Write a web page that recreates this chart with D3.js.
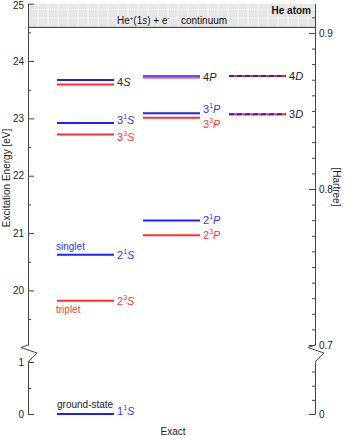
<!DOCTYPE html>
<html>
<head>
<meta charset="utf-8">
<script src="https://cdn.jsdelivr.net/npm/d3@7"></script>
<style>
body { margin: 0; background: #fff; }
text { font-family: "Liberation Sans", Arial, sans-serif; }
</style>
</head>
<body>
<div id="chart"></div>
<script>
// He atom levels, exact excitation energies (eV)
const levelTerms  = ["1¹S","2³S","2¹S","2³P","2¹P","3³S","3¹S","3³P","3¹P","3³D","3¹D","4³S","4¹S","4³P","4¹P","4³D","4¹D"];
const levelEnergy = [0, 19.82, 20.62, 20.96, 21.22, 22.72, 22.92, 23.01, 23.09, 23.07, 23.07, 23.59, 23.67, 23.71, 23.74, 23.74, 23.74];
const levelSpin   = ["s","t","s","t","s","t","s","t","s","t","s","t","s","t","s","t","s"];
const levelL      = ["S","S","S","P","P","S","S","P","P","D","D","S","S","P","P","D","D"];

// term labels: n, multiplicity ("" = both), L
const labelN    = ["1","2","2","2","2","3","3","3","3","3","4","4","4"];
const labelMult = ["1","3","1","3","1","3","1","3","1","","","",""];
const labelL    = ["S","S","S","P","P","S","S","P","P","D","S","P","D"];

const ionization = 24.587;   // He+(1s) + e- threshold
const HARTREE = 27.2114;     // eV per Hartree

const eVMajorUp = [20, 21, 22, 23, 24, 25];
const eVMinorUp = [19.5, 20.5, 21.5, 22.5, 23.5, 24.5];
const eVMajorLo = [0, 1];
const eVMinorLo = [0.5];
const haMajorUp = [0.7, 0.8, 0.9];
const haMinorUp = d3.range(71, 92).filter(i => i % 10).map(i => i / 100);
const haMajorLo = [0];
const haMinorLo = [0.01, 0.02, 0.03];

const width = 345, height = 436;
const xL = 28, xR = 315;
const blue = "#2020ff", red = "#ff3030";

const svg = d3.select("#chart").append("svg")
    .attr("width", width)
    .attr("height", height);

// broken y axis: upper panel 0.7 Ha .. 25 eV, lower panel 0 .. 1 eV
const yUp = d3.scaleLinear().domain([0.7 * HARTREE, 25]).range([345, 3.7]);
const yLo = d3.scaleLinear().domain([0, 1]).range([414, 362]);
const yE = e => e > 5 ? yUp(e) : yLo(e);
const hUp = d3.scaleLinear().domain([0.7, 25 / HARTREE]).range([345, 3.7]);
const hLo = d3.scaleLinear().domain([0, 1 / HARTREE]).range([414, 362]);

const x = d3.scaleBand().domain(["S", "P", "D"]).range([57, 286]).paddingInner(1 - 57 / 86);

// continuum band
const band = svg.append("g");
band.append("rect")
    .attr("x", xL).attr("y", yUp(25))
    .attr("width", xR - xL).attr("height", yUp(ionization) - yUp(25))
    .attr("fill", "#e6e6e6");
band.selectAll(".vg").data(d3.range(xL + 10, xR, 10)).enter().append("line")
    .attr("x1", d => d).attr("x2", d => d)
    .attr("y1", yUp(25)).attr("y2", yUp(ionization))
    .attr("stroke", "#fff").attr("stroke-dasharray", "1,1");
band.selectAll(".hg").data([yUp(24.9), yUp(24.75)]).enter().append("line")
    .attr("x1", xL).attr("x2", xR)
    .attr("y1", d => d).attr("y2", d => d)
    .attr("stroke", "#fff").attr("stroke-dasharray", "1,1");
band.append("line")
    .attr("x1", xL).attr("x2", xR)
    .attr("y1", yUp(ionization)).attr("y2", yUp(ionization))
    .attr("stroke", "#333").attr("stroke-width", 1);

band.append("text")
    .attr("x", xR - 4).attr("y", 14)
    .attr("text-anchor", "end")
    .attr("font-size", 10).attr("font-weight", "bold")
    .attr("fill", "#111")
    .text("He atom");
const ct = band.append("text")
    .attr("x", 117).attr("y", 24)
    .attr("font-size", 10).attr("fill", "#111");
ct.append("tspan").text("He");
ct.append("tspan").attr("dy", -4).attr("font-size", 6).text("+");
ct.append("tspan").attr("dy", 4).text("(1");
ct.append("tspan").attr("font-style", "italic").text("s");
ct.append("tspan").text(") + e");
ct.append("tspan").attr("dy", -4).attr("font-size", 6).text("-");
ct.append("tspan").attr("dy", 4).attr("x", 181).text("continuum");

// axes
function styleAxis(g) {
    g.selectAll("path, line").attr("stroke", "#444");
    g.selectAll("text").attr("font-size", 10).attr("fill", "#222")
        .attr("font-family", "\"Liberation Sans\", Arial, sans-serif");
}
function addAxis(axis, xpos, major) {
    const g = svg.append("g").attr("transform", `translate(${xpos},0)`).call(axis);
    if (!major) g.select(".domain").remove();
    styleAxis(g);
    return g;
}
const leftUp = addAxis(d3.axisLeft(yUp).tickValues(eVMajorUp).tickSizeInner(-6).tickSizeOuter(0).tickPadding(4).tickFormat(d3.format("d")), xL, true);
// keep the top label inside the picture
leftUp.selectAll(".tick text").filter(d => d === 25).attr("dy", "0.5em");
addAxis(d3.axisLeft(yUp).tickValues(eVMinorUp).tickSize(-3).tickFormat(""), xL, false);
addAxis(d3.axisLeft(yLo).tickValues(eVMajorLo).tickSizeInner(-6).tickSizeOuter(0).tickPadding(4).tickFormat(d3.format("d")), xL, true);
addAxis(d3.axisLeft(yLo).tickValues(eVMinorLo).tickSize(-3).tickFormat(""), xL, false);
addAxis(d3.axisRight(hUp).tickValues(haMajorUp).tickSizeInner(-6).tickSizeOuter(0).tickPadding(4).tickFormat(d3.format(".1f")), xR, true);
addAxis(d3.axisRight(hUp).tickValues(haMinorUp).tickSize(-3).tickFormat(""), xR, false);
addAxis(d3.axisRight(hLo).tickValues(haMajorLo).tickSizeInner(-6).tickSizeOuter(0).tickPadding(4).tickFormat(d3.format("d")), xR, true);
addAxis(d3.axisRight(hLo).tickValues(haMinorLo).tickSize(-3).tickFormat(""), xR, false);

// axis break zigzags
const zig = d3.line();
[xL, xR].forEach(ax => {
    svg.append("path")
        .attr("d", zig([[ax, yUp.range()[0]], [ax - 7, 347.5], [ax + 9, 353], [ax, yLo.range()[1]]]))
        .attr("fill", "none").attr("stroke", "#444");
});

// axis titles
svg.append("text")
    .attr("transform", `translate(10,178) rotate(-90)`)
    .attr("text-anchor", "middle").attr("font-size", 10).attr("fill", "#222")
    .text("Excitation Energy [eV]");
svg.append("text")
    .attr("transform", `translate(333,187) rotate(90)`)
    .attr("text-anchor", "middle").attr("font-size", 10).attr("fill", "#222")
    .text("[Hartree]");
svg.append("text")
    .attr("x", 173).attr("y", 435)
    .attr("text-anchor", "middle").attr("font-size", 10).attr("fill", "#222")
    .text("Exact");

// levels: triplets first, singlets on top; D singlet dashed over triplet
const idx = d3.range(levelTerms.length).sort((a, b) => (levelSpin[a] === "s") - (levelSpin[b] === "s"));
svg.append("g").selectAll("line").data(idx).enter().append("line")
    .attr("x1", i => x(levelL[i]))
    .attr("x2", i => x(levelL[i]) + x.bandwidth())
    .attr("y1", i => yE(levelEnergy[i]))
    .attr("y2", i => yE(levelEnergy[i]))
    .attr("stroke", i => levelSpin[i] === "s" ? blue : red)
    .attr("stroke-opacity", i => levelL[i] === "P" && levelEnergy[i] > 23.5 ? 0.75 : 1)
    .attr("stroke-width", 2)
    .attr("stroke-dasharray", i => levelL[i] === "D" && levelSpin[i] === "s" ? "5,3" : null);

// term labels
const labelEnergy = labelN.map((n, k) => {
    const sel = d3.range(levelTerms.length).filter(i =>
        levelTerms[i][0] === n && levelL[i] === labelL[k] &&
        (labelMult[k] === "" || levelTerms[i][1] === (labelMult[k] === "1" ? "¹" : "³")));
    return d3.mean(sel, i => levelEnergy[i]);
});
// nudge crowded n=3 labels apart (pixels)
const nudge = { "3 1 S": -3, "3 3 S": 3, "3 1 P": -4, "3 3 P": 6 };
const lab = svg.append("g").selectAll("text").data(labelN).enter().append("text")
    .attr("x", (d, k) => x(labelL[k]) + x.bandwidth() + 3)
    .attr("y", (d, k) => yE(labelEnergy[k]) + 4 + (nudge[`${d} ${labelMult[k]} ${labelL[k]}`] || 0) - (labelEnergy[k] === 0 ? 3 : 0))
    .attr("font-size", 11)
    .attr("fill", (d, k) => labelMult[k] === "1" ? "#3333ff" : labelMult[k] === "3" ? "#ff3333" : "#222");
lab.append("tspan").text(d => d);
lab.append("tspan").attr("dy", -5).attr("font-size", 7).text((d, k) => labelMult[k]);
lab.append("tspan").attr("dy", (d, k) => labelMult[k] ? 5 : 0).attr("font-style", "italic").text((d, k) => labelL[k]);

// annotations
svg.append("text").attr("x", 56).attr("y", yE(20.62) - 5)
    .attr("font-size", 10).attr("fill", "#3333ff").text("singlet");
svg.append("text").attr("x", 56).attr("y", yE(19.82) + 12)
    .attr("font-size", 10).attr("fill", "#ff3333").text("triplet");
svg.append("text").attr("x", 57).attr("y", yE(0) - 6)
    .attr("font-size", 10).attr("fill", "#222").text("ground-state");
</script>
</body>
</html>
